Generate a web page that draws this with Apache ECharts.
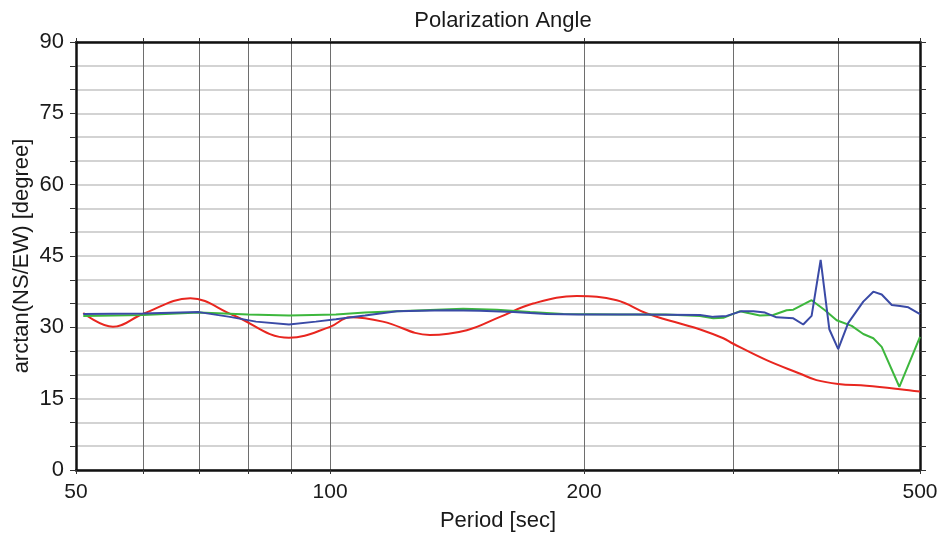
<!DOCTYPE html>
<html>
<head>
<meta charset="utf-8">
<script src="https://cdn.jsdelivr.net/npm/echarts@6/dist/echarts.min.js"></script>
<style>
html,body{margin:0;padding:0;background:#fff;}
#c{width:944px;height:537px;}
</style>
</head>
<body>
<div id="c"></div>
<script>
// ---- data ----
const xTickValues = [50, 60, 70, 80, 90, 100, 200, 300, 400, 500];
const xLabelValues = [50, 100, 200, 500];
const yLabelStep = 15;

const redPeriod = [51, 55.3, 60, 68.3, 76.7, 89.4, 100, 105.6, 115.5, 131.3, 145.2, 159, 174, 196, 218.6, 237.4, 259.8, 274, 292.4, 300, 329, 360, 377, 400, 432, 473.5, 500];
const redAngle  = [33.0, 30.1, 32.8, 36.1, 32.6, 27.8, 30.1, 32.1, 31.2, 28.4, 29.4, 32.2, 35.0, 36.6, 35.7, 32.9, 30.8, 29.6, 27.7, 26.6, 23.1, 20.3, 18.9, 18.1, 17.7, 17.0, 16.5];

const greenPeriod = [51, 60, 70, 80, 89.4, 101.6, 110, 120, 143.8, 157.6, 172.6, 189, 220, 250, 274.4, 284.5, 292.4, 306, 323, 335, 347.5, 353.9, 372, 385.8, 398.3, 415, 428.3, 440.2, 450.4, 472.6, 500];
const greenAngle  = [32.4, 32.6, 33.1, 32.7, 32.5, 32.7, 33.1, 33.4, 33.9, 33.7, 33.2, 32.8, 32.7, 32.7, 32.4, 31.9, 32.0, 33.4, 32.5, 32.6, 33.6, 33.7, 35.7, 33.6, 31.5, 30.3, 28.6, 27.7, 25.9, 17.5, 28.0];

const bluePeriod = [51, 60, 69.9, 76.1, 81.7, 89.4, 96.2, 101.6, 110, 120, 137.5, 150.5, 165, 180.6, 197, 230, 274.4, 284.5, 295, 307.4, 317.3, 327.6, 338, 353.9, 363.6, 372, 381.3, 390.4, 400, 411, 428.3, 440.2, 450.4, 462.9, 473.5, 484.3, 500];
const blueAngle  = [32.8, 32.9, 33.2, 32.2, 31.2, 30.6, 31.2, 31.7, 32.5, 33.4, 33.6, 33.5, 33.2, 32.8, 32.7, 32.7, 32.6, 32.2, 32.4, 33.4, 33.4, 33.1, 32.1, 31.9, 30.6, 32.4, 44.2, 29.6, 25.4, 30.9, 35.4, 37.5, 36.9, 34.7, 34.5, 34.2, 32.8];

function pairs(xs, ys) { return xs.map((x, i) => [x, ys[i]]); }

const font = '"Liberation Sans", Arial, Helvetica, sans-serif';
const chart = echarts.init(document.getElementById('c'), null, { renderer: 'canvas' });

chart.setOption({
  animation: false,
  backgroundColor: '#ffffff',
  title: {
    text: 'Polarization Angle',
    left: 498, top: 5, textAlign: 'center',
    textStyle: { fontFamily: font, fontSize: 22, fontWeight: 'normal', color: '#1a1a1a' }
  },
  grid: { left: 76, right: 24, top: 42, bottom: 67, containLabel: false },
  xAxis: [{
    type: 'log', logBase: 10, min: 50, max: 500,
    name: 'Period [sec]', nameLocation: 'middle', nameGap: 40, nameMoveOverlap: false,
    nameTextStyle: { fontFamily: font, fontSize: 22, color: '#1a1a1a' },
    axisLine: { show: true, onZero: false, lineStyle: { color: '#111', width: 2.5 } },
    axisTick: { show: true, inside: false, length: 4, customValues: xTickValues, lineStyle: { color: '#333', width: 1 } },
    axisLabel: { show: true, customValues: xLabelValues, margin: 12, fontFamily: font, fontSize: 21, color: '#1a1a1a', formatter: v => String(Math.round(v)) },
    splitLine: { show: true, lineStyle: { color: '#6e6e6e', width: 1 } },
    minorTick: { show: false }, minorSplitLine: { show: false }
  }, {
    type: 'log', logBase: 10, min: 50, max: 500, position: 'top',
    axisLine: { show: true, onZero: false, lineStyle: { color: '#111', width: 2.5 } },
    axisTick: { show: true, inside: false, length: 4, customValues: xTickValues, lineStyle: { color: '#333', width: 1 } },
    axisLabel: { show: false },
    splitLine: { show: false }
  }],
  yAxis: [{
    type: 'value', min: 0, max: 90, interval: 5,
    name: 'arctan(NS/EW) [degree]', nameLocation: 'middle', nameGap: 43, nameMoveOverlap: false,
    nameTextStyle: { fontFamily: font, fontSize: 22, color: '#1a1a1a' },
    axisLine: { show: true, onZero: false, lineStyle: { color: '#111', width: 2.5 } },
    axisTick: { show: true, inside: false, length: 6, lineStyle: { color: '#333', width: 1 } },
    axisLabel: { margin: 12, fontFamily: font, fontSize: 22, color: '#1a1a1a',
      formatter: v => (Math.round(v) % yLabelStep === 0 ? String(Math.round(v)) : '') },
    splitLine: { show: true, lineStyle: { color: '#c4c4c4', width: 1.5 } }
  }, {
    type: 'value', min: 0, max: 90, interval: 5, position: 'right',
    axisLine: { show: true, onZero: false, lineStyle: { color: '#111', width: 2.5 } },
    axisTick: { show: true, inside: false, length: 6, lineStyle: { color: '#333', width: 1 } },
    axisLabel: { show: false },
    splitLine: { show: false }
  }],
  series: [{
    type: 'line', name: 'red', data: pairs(redPeriod, redAngle), smooth: 0.4,
    showSymbol: false, symbol: 'none',
    lineStyle: { color: '#e8261f', width: 2 }, z: 3
  }, {
    type: 'line', name: 'green', data: pairs(greenPeriod, greenAngle), smooth: false,
    showSymbol: false, symbol: 'none',
    lineStyle: { color: '#3db73d', width: 2 }, z: 4
  }, {
    type: 'line', name: 'blue', data: pairs(bluePeriod, blueAngle), smooth: false,
    showSymbol: false, symbol: 'none',
    lineStyle: { color: '#3a4aa6', width: 2 }, z: 5
  }]
});
</script>
</body>
</html>
